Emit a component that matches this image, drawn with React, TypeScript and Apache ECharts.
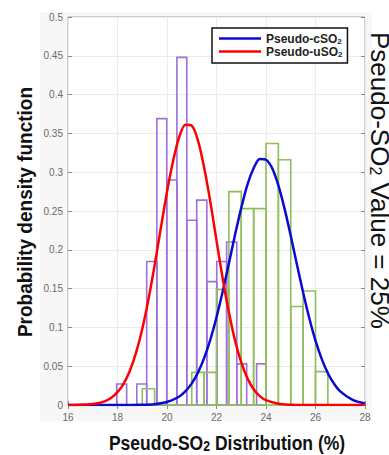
import React, { useEffect, useRef } from 'react';
import * as echarts from 'echarts';

// Histogram of Pseudo-uSO2 (purple) – bin edges and probability densities
const purpleEdges = [17.97, 18.37, 18.78, 19.18, 19.59, 19.99, 20.4, 20.8, 21.2, 21.61, 22.01, 22.41, 22.82, 23.22, 23.62, 24.0];
const purpleHeights = [0.027, 0, 0.027, 0.185, 0.369, 0.29, 0.448, 0.238, 0.264, 0.159, 0.185, 0.21, 0.053, 0, 0.053];

// Histogram of Pseudo-cSO2 (green)
const greenEdges = [19.0, 19.5, 20.0, 20.5, 21.0, 21.5, 22.0, 22.5, 23.0, 23.5, 24.0, 24.5, 25.0, 25.5, 26.0, 26.5];
const greenHeights = [0.021, 0, 0, 0, 0.042, 0.042, 0.149, 0.275, 0.253, 0.253, 0.337, 0.316, 0.127, 0.147, 0.043];

// Fitted density curves
const redX = [16, 16.5, 17, 17.25, 17.5, 17.75, 18, 18.25, 18.5, 18.75, 19, 19.25, 19.5, 19.75, 20, 20.25, 20.5, 20.75, 21, 21.25, 21.5, 21.75, 22, 22.25, 22.5, 22.75, 23, 23.25, 23.5, 23.75, 24, 24.5, 25, 25.5, 26, 27, 28];
const redY = [0, 0.0003, 0.0013, 0.0026, 0.0051, 0.0094, 0.0165, 0.0276, 0.0442, 0.0674, 0.098, 0.136, 0.18, 0.228, 0.2745, 0.315, 0.346, 0.361, 0.36, 0.341, 0.306, 0.262, 0.212, 0.163, 0.1195, 0.083, 0.0548, 0.0343, 0.0204, 0.0115, 0.0062, 0.0015, 0.0003, 0, 0, 0, 0];

const blueX = [16, 17, 18, 19, 19.5, 20, 20.5, 20.75, 21, 21.25, 21.5, 21.75, 22, 22.25, 22.5, 22.75, 23, 23.25, 23.5, 23.75, 24, 24.25, 24.5, 24.75, 25, 25.25, 25.5, 25.75, 26, 26.25, 26.5, 26.75, 27, 27.5, 28];
const blueY = [0, 0, 0, 0.0003, 0.0011, 0.0038, 0.011, 0.0178, 0.0278, 0.0417, 0.0604, 0.0841, 0.113, 0.1463, 0.1825, 0.2194, 0.254, 0.284, 0.305, 0.317, 0.316, 0.305, 0.283, 0.253, 0.218, 0.181, 0.145, 0.1118, 0.083, 0.0595, 0.041, 0.0273, 0.0175, 0.0065, 0.002];

const seriesNames = ['Pseudo-cSO2', 'Pseudo-uSO2'];
const legendLabels = ['{n|Pseudo-cSO}{s|2}', '{n|Pseudo-uSO}{s|2}'];

const X_MIN = 16, X_MAX = 28, X_STEP = 2;
const Y_MIN = 0, Y_MAX = 0.5, Y_STEP = 0.05;

const FONT = 'Liberation Sans, Arial, Helvetica, sans-serif';

function bins(edges: number[], heights: number[]) {
  return heights.map((h, i) => [edges[i], edges[i + 1], h]);
}

function histSeries(name: string, data: number[][], color: string) {
  return {
    type: 'custom',
    name,
    coordinateSystem: 'cartesian2d',
    xAxisIndex: 0,
    yAxisIndex: 0,
    encode: { x: [0, 1], y: 2 },
    data,
    z: 2,
    renderItem: (params: any, api: any) => {
      const x0 = api.value(0);
      const x1 = api.value(1);
      const h = api.value(2);
      const p0 = api.coord([x0, 0]);
      const p1 = api.coord([x1, h]);
      return {
        type: 'rect',
        shape: { x: p0[0], y: p1[1], width: p1[0] - p0[0], height: p0[1] - p1[1] },
        style: { fill: 'none', stroke: color, lineWidth: 1.6 },
      };
    },
  };
}

export default function App() {
  const ref = useRef<HTMLDivElement>(null);
  useEffect(() => {
    if (!ref.current) return;
    const chart = echarts.init(ref.current, undefined, { renderer: 'svg' });
    const axisCommon = {
      type: 'value',
      axisLine: { show: false },
    };
    chart.setOption({
      animation: false,
      backgroundColor: '#ffffff',
      textStyle: { fontFamily: FONT },
      grid: {
        left: 68, right: 24, top: 17, bottom: 50,
        show: true, backgroundColor: '#ffffff', borderColor: '#a3a3a3', borderWidth: 1,
      },
      legend: {
        data: seriesNames,
        orient: 'vertical',
        left: 212,
        top: 28,
        padding: [5, 5, 5, 7],
        icon: 'rect',
        itemWidth: 42,
        itemHeight: 2.5,
        itemGap: 1,
        borderColor: '#111',
        borderWidth: 1.5,
        backgroundColor: '#ffffff',
        formatter: (name: string) => legendLabels[seriesNames.indexOf(name)],
        textStyle: {
          color: '#222',
          fontWeight: 'bold',
          fontSize: 12,
          rich: {
            n: { fontSize: 12, fontWeight: 'bold', color: '#222', fontFamily: FONT, lineHeight: 13, verticalAlign: 'bottom' },
            s: { fontSize: 8, fontWeight: 'bold', color: '#222', fontFamily: FONT, lineHeight: 9, verticalAlign: 'bottom' },
          },
        },
      },
      xAxis: [
        {
          ...axisCommon,
          min: X_MIN, max: X_MAX, interval: X_STEP,
          position: 'bottom',
          axisTick: { show: true, inside: true, length: 4, lineStyle: { color: '#8a8a8a' } },
          axisLabel: { color: '#6a6a6a', fontSize: 10, margin: 7, fontFamily: FONT },
          splitLine: { show: true, lineStyle: { color: '#ececec', width: 1 } },
        },
        {
          ...axisCommon,
          min: X_MIN, max: X_MAX, interval: X_STEP,
          position: 'top',
          axisTick: { show: true, inside: true, length: 4, lineStyle: { color: '#8a8a8a' } },
          axisLabel: { show: false },
          splitLine: { show: false },
        },
      ],
      yAxis: [
        {
          ...axisCommon,
          min: Y_MIN, max: Y_MAX, interval: Y_STEP,
          position: 'left',
          axisTick: { show: true, inside: true, length: 4, lineStyle: { color: '#8a8a8a' } },
          axisLabel: { color: '#6a6a6a', fontSize: 10, margin: 5, fontFamily: FONT },
          splitLine: { show: true, lineStyle: { color: '#ececec', width: 1 } },
        },
        {
          ...axisCommon,
          min: Y_MIN, max: Y_MAX, interval: Y_STEP,
          position: 'right',
          axisTick: { show: true, inside: true, length: 4, lineStyle: { color: '#8a8a8a' } },
          axisLabel: { show: false },
          splitLine: { show: false },
        },
      ],
      graphic: [
        {
          type: 'rect',
          z: -100,
          silent: true,
          shape: { x: 40, y: 12, width: 332, height: 409 },
          style: { fill: '#f7f7f7' },
        },
        {
          type: 'text',
          x: 227,
          y: 442,
          scaleX: 0.875,
          style: {
            text: '{a|Pseudo-SO}{b|2}{a| Distribution (%)}',
            align: 'center',
            verticalAlign: 'middle',
            rich: {
              a: { fontSize: 20, fontWeight: 'bold', fill: '#111', fontFamily: FONT, lineHeight: 22, verticalAlign: 'bottom' },
              b: { fontSize: 14, fontWeight: 'bold', fill: '#111', fontFamily: FONT, lineHeight: 15, verticalAlign: 'bottom' },
            },
          },
        },
        {
          type: 'text',
          x: 25,
          y: 212,
          rotation: Math.PI / 2,
          scaleX: 0.95,
          style: {
            text: 'Probability density function',
            fontSize: 20,
            fontWeight: 'bold',
            fill: '#111',
            fontFamily: FONT,
            align: 'center',
            verticalAlign: 'middle',
          },
        },
        {
          type: 'text',
          x: 367,
          y: 32,
          rotation: -Math.PI / 2,
          style: {
            text: '{a|Pseudo-SO}{b|2}{a| Value = 25%}',
            align: 'left',
            verticalAlign: 'bottom',
            rich: {
              a: { fontSize: 26, fill: '#111', fontFamily: FONT, lineHeight: 26, verticalAlign: 'bottom' },
              b: { fontSize: 16, fill: '#111', fontFamily: FONT, lineHeight: 12, verticalAlign: 'bottom' },
            },
          },
        },
      ],
      series: [
        histSeries('uSO2 histogram', bins(purpleEdges, purpleHeights), '#9d70dc'),
        histSeries('cSO2 histogram', bins(greenEdges, greenHeights), '#8dbf5a'),
        {
          type: 'line',
          name: seriesNames[0],
          data: blueX.map((x, i) => [x, blueY[i]]),
          symbol: 'none',
          smooth: 0.3,
          lineStyle: { color: '#0b0bcf', width: 2.5 },
          itemStyle: { color: '#0b0bcf' },
          z: 3,
        },
        {
          type: 'line',
          name: seriesNames[1],
          data: redX.map((x, i) => [x, redY[i]]),
          symbol: 'none',
          smooth: 0.3,
          lineStyle: { color: '#ff0000', width: 2.5 },
          itemStyle: { color: '#ff0000' },
          z: 4,
        },
      ],
    });
    return () => chart.dispose();
  }, []);
  return (
    <div
      ref={ref}
      style={{ position: 'fixed', left: 0, top: 0, width: 389, height: 455 }}
    />
  );
}
